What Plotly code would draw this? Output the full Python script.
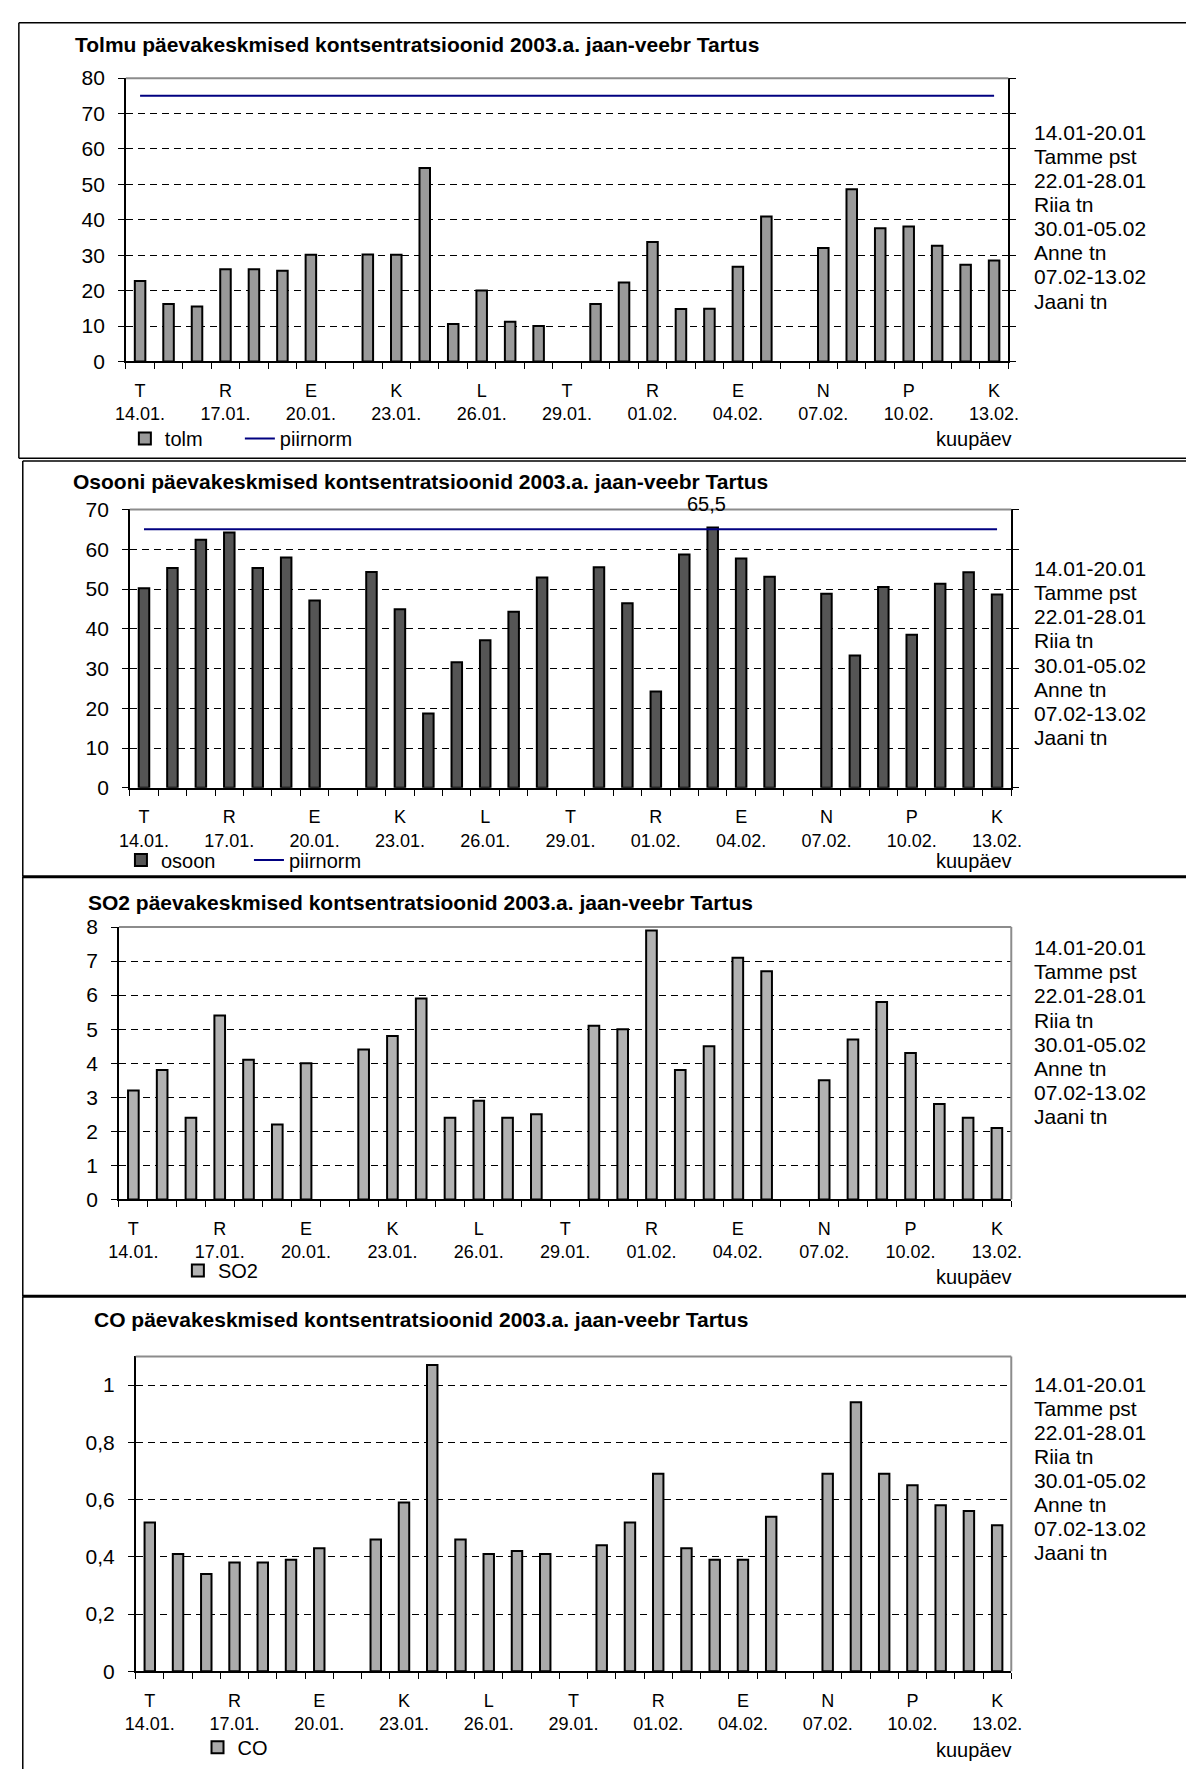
import plotly.graph_objects as go

W, H = 1197, 1780
FONT = "Liberation Sans, Arial, sans-serif"

# ---------------- data ----------------
dates = ["14.01.", "15.01.", "16.01.", "17.01.", "18.01.", "19.01.", "20.01.", "21.01.",
         "22.01.", "23.01.", "24.01.", "25.01.", "26.01.", "27.01.", "28.01.", "29.01.",
         "30.01.", "31.01.", "01.02.", "02.02.", "03.02.", "04.02.", "05.02.", "06.02.",
         "07.02.", "08.02.", "09.02.", "10.02.", "11.02.", "12.02.", "13.02."]
tick_dates = ["14.01.", "17.01.", "20.01.", "23.01.", "26.01.", "29.01.",
              "01.02.", "04.02.", "07.02.", "10.02.", "13.02."]
tick_days = ["T", "R", "E", "K", "L", "T", "R", "E", "N", "P", "K"]

tolm = [22.7, 16.2, 15.5, 26.0, 26.0, 25.6, 30.1, None,
        30.2, 30.1, 54.6, 10.6, 20.0, 11.2, 10.0, None,
        16.2, 22.3, 33.7, 14.8, 14.9, 26.7, 40.9, None,
        32.0, 48.6, 37.6, 38.1, 32.7, 27.3, 28.5]
tolm_piirnorm = [75] * 31

osoon = [50.2, 55.3, 62.4, 64.2, 55.3, 57.9, 47.1, None,
         54.3, 44.9, 18.7, 31.6, 37.1, 44.3, 52.9, None,
         55.5, 46.4, 24.2, 58.7, 65.5, 57.7, 53.1, None,
         48.8, 33.3, 50.5, 38.5, 51.3, 54.2, 48.6]
osoon_piirnorm = [65] * 31
osoon_label_index = 20

so2 = [3.2, 3.8, 2.4, 5.4, 4.1, 2.2, 4.0, None,
       4.4, 4.8, 5.9, 2.4, 2.9, 2.4, 2.5, None,
       5.1, 5.0, 7.9, 3.8, 4.5, 7.1, 6.7, None,
       3.5, 4.7, 5.8, 4.3, 2.8, 2.4, 2.1]

co = [0.52, 0.41, 0.34, 0.38, 0.38, 0.39, 0.43, None,
      0.46, 0.59, 1.07, 0.46, 0.41, 0.42, 0.41, None,
      0.44, 0.52, 0.69, 0.43, 0.39, 0.39, 0.54, None,
      0.69, 0.94, 0.69, 0.65, 0.58, 0.56, 0.51]

titles = ["Tolmu päevakeskmised kontsentratsioonid 2003.a. jaan-veebr Tartus",
          "Osooni päevakeskmised kontsentratsioonid 2003.a. jaan-veebr Tartus",
          "SO2 päevakeskmised kontsentratsioonid 2003.a. jaan-veebr Tartus",
          "CO päevakeskmised kontsentratsioonid 2003.a. jaan-veebr Tartus"]
side_lines = ["14.01-20.01", "Tamme pst", "22.01-28.01", "Riia tn",
              "30.01-05.02", "Anne tn", "07.02-13.02", "Jaani tn"]
x_title = "kuupäev"

# ---------------- helpers ----------------
def fx(px):
    return px / W

def fy(py):
    return 1 - py / H

idx = list(range(len(dates)))
tickvals = [dates.index(d) for d in tick_dates]
ticktext = [f"{l}<br>{d}" for l, d in zip(tick_days, tick_dates)]

# panel geometry (pixels)
panels = [
    dict(l=117, r=1016, t=67, b=354, yr=[0, 80], yt=list(range(0, 81, 10)), mirror=True,
         title_x=63, title_y=33, side_y=122, kuu_y=433,
         leg_x=116, leg_y=432, entry=70),
    dict(l=121, r=1019, t=504, b=786, yr=[0, 70], yt=list(range(0, 71, 10)), mirror=True,
         title_x=61, title_y=476, side_y=564, kuu_y=860,
         leg_x=112, leg_y=859, entry=83),
    dict(l=110, r=1019, t=927, b=1203, yr=[0, 8], yt=list(range(0, 9)), mirror=False,
         title_x=76, title_y=902, side_y=948, kuu_y=1282,
         leg_x=170, leg_y=1275, entry=None),
    dict(l=127, r=1019, t=1362, b=1681, yr=[0, 1.1], yt=[0, 0.2, 0.4, 0.6, 0.8, 1.0], mirror=False,
         title_x=83, title_y=1325, side_y=1390, kuu_y=1761,
         leg_x=190, leg_y=1758, entry=None),
]
SIDE_X = 1040
SIDE_STEP = 24.4
KUU_X = 1022

series = [
    ("tolm", tolm, "#9a9a9a", tolm_piirnorm),
    ("osoon", osoon, "#555555", osoon_piirnorm),
    ("SO2", so2, "#b2b2b2", None),
    ("CO", co, "#ababab", None),
]
legend_names = ["legend", "legend2", "legend3", "legend4"]

fig = go.Figure()
layout = dict(
    width=W, height=H, margin=dict(l=0, r=0, t=0, b=0),
    paper_bgcolor="white", plot_bgcolor="white",
    separators=",.",
    font=dict(family=FONT, color="black", size=21),
    showlegend=True,
)
annotations = []
shapes = []

for k, (p, (name, vals, color, limit)) in enumerate(zip(panels, series)):
    n = "" if k == 0 else str(k + 1)
    xa, ya = "x" + n, "y" + n
    fig.add_trace(go.Bar(
        x=idx, y=vals, width=0.37, name=name,
        marker=dict(color=color, line=dict(color="black", width=2)),
        xaxis=xa, yaxis=ya, legend=legend_names[k],
    ))
    if limit is not None:
        fig.add_trace(go.Scatter(
            x=idx, y=limit, mode="lines", name="piirnorm",
            line=dict(color="#000080", width=2),
            xaxis=xa, yaxis=ya, legend=legend_names[k],
        ))
    layout["xaxis" + n] = dict(
        domain=[fx(p["l"]), fx(p["r"])], anchor=ya,
        range=[-0.5, len(dates) - 0.5],
        tickmode="array", tickvals=tickvals, ticktext=ticktext,
        ticks="", showgrid=False, zeroline=False,
        showline=True, linecolor="black", linewidth=1.5,
        tickfont=dict(size=18, family=FONT),
        ticklabelstandoff=12,
        minor=dict(tickmode="array", tickvals=[i - 0.5 for i in range(len(dates) + 1)],
                   ticks="outside", ticklen=6, tickcolor="black", tickwidth=1, showgrid=False),
        fixedrange=True,
    )
    layout["yaxis" + n] = dict(
        domain=[fy(p["b"]), fy(p["t"])], anchor=xa,
        range=p["yr"], tickmode="array", tickvals=p["yt"],
        ticks="outside", ticklen=6, tickcolor="black", tickwidth=1,
        showline=True, linecolor="black", linewidth=1.5,
        mirror="ticks" if p["mirror"] else False,
        showgrid=True, gridcolor="black", gridwidth=1, griddash="7px,5px",
        zeroline=False, tickfont=dict(size=21, family=FONT),
        ticklabelstandoff=9,
        fixedrange=True,
    )
    # grey plot-area border
    shapes.append(dict(type="line", xref=xa + " domain", yref=ya + " domain",
                       x0=0, x1=1, y0=1, y1=1, line=dict(color="#8c8c8c", width=2), layer="above"))
    if not p["mirror"]:
        shapes.append(dict(type="line", xref=xa + " domain", yref=ya + " domain",
                           x0=1, x1=1, y0=0, y1=1, line=dict(color="#8c8c8c", width=2), layer="above"))
    # title
    annotations.append(dict(text=f"<b>{titles[k]}</b>", xref="paper", yref="paper",
                            x=fx(p["title_x"]), y=fy(p["title_y"]), xanchor="left", yanchor="middle",
                            showarrow=False, font=dict(size=21, family=FONT)))
    # side text, one line each
    for j, line in enumerate(side_lines):
        annotations.append(dict(text=line, xref="paper", yref="paper",
                                x=fx(SIDE_X), y=fy(p["side_y"] + j * SIDE_STEP),
                                xanchor="left", yanchor="middle", showarrow=False,
                                font=dict(size=21, family=FONT)))
    # axis title
    annotations.append(dict(text=x_title, xref="paper", yref="paper",
                            x=fx(KUU_X), y=fy(p["kuu_y"]), xanchor="right", yanchor="middle",
                            showarrow=False, font=dict(size=20, family=FONT)))
    # legend
    leg = dict(
        x=fx(p["leg_x"]), y=fy(p["leg_y"]), xanchor="left", yanchor="middle",
        orientation="h", bgcolor="rgba(0,0,0,0)", borderwidth=0,
        font=dict(size=20, family=FONT), itemwidth=30, tracegroupgap=0,
    )
    if p["entry"]:
        leg["entrywidth"] = p["entry"]
        leg["entrywidthmode"] = "pixels"
    layout[legend_names[k]] = leg

# data label for the ozone maximum
annotations.append(dict(text=f"{osoon[osoon_label_index]}".replace(".", ","),
                        xref="x2", yref="y2", x=osoon_label_index, y=osoon[osoon_label_index],
                        xanchor="center", yanchor="bottom", yshift=10, xshift=-6, showarrow=False,
                        font=dict(size=20, family=FONT)))

# panel frames (pixels)
def hline(y, x0, x1, w):
    shapes.append(dict(type="line", xref="paper", yref="paper", x0=fx(x0), x1=fx(x1),
                       y0=fy(y), y1=fy(y), line=dict(color="black", width=w)))

def vline(x, y0, y1, w):
    shapes.append(dict(type="line", xref="paper", yref="paper", x0=fx(x), x1=fx(x),
                       y0=fy(y0), y1=fy(y1), line=dict(color="black", width=w)))

hline(11, 8, W, 1.5)
vline(8, 11, 452, 1.5)
hline(452, 8, W, 1.5)
hline(455, 12, W, 1.5)
vline(12, 455, 876, 1.5)
hline(876, 12, W, 3)
vline(12, 876, 1301, 1.5)
hline(1301, 12, W, 3)
vline(12, 1301, H, 1.5)

layout["annotations"] = annotations
layout["shapes"] = shapes
fig.update_layout(**layout)

fig.write_html(
    "out.html",
    include_plotlyjs=True,
    config={"displayModeBar": False},
    post_script="document.body.style.margin='0';document.body.style.overflow='hidden';",
)
